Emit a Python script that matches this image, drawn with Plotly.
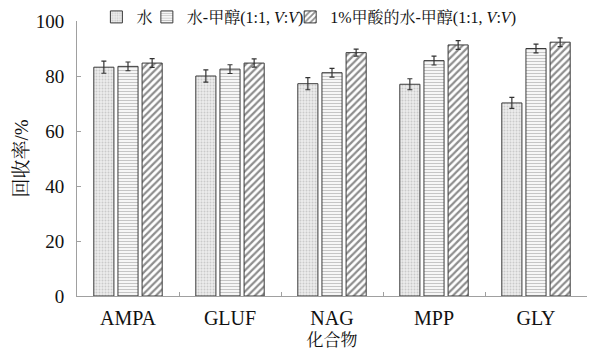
import plotly.graph_objects as go

categories = ["AMPA", "GLUF", "NAG", "MPP", "GLY"]
series_names = ["水", "水-甲醇(1:1, <i>V</i>:<i>V</i>)", "1%甲酸的水-甲醇(1:1, <i>V</i>:<i>V</i>)"]
water = [83.2, 80.0, 77.2, 77.0, 70.2]
water_err = [2.2, 2.2, 2.2, 2.0, 2.0]
water_meoh = [83.5, 82.5, 81.2, 85.6, 90.0]
water_meoh_err = [1.6, 1.6, 1.6, 1.6, 1.6]
formic = [84.7, 84.7, 88.5, 91.3, 92.3]
formic_err = [1.6, 1.5, 1.3, 1.6, 1.6]
y_ticks = [0, 20, 40, 60, 80, 100]

font_serif = "Liberation Serif, Times New Roman, Noto Serif CJK SC, Noto Sans CJK SC, serif"

fig = go.Figure()
styles = [
    dict(shape=".", fgcolor="#a8a8a8", bgcolor="#ececec", size=3, solidity=0.35),
    dict(shape="-", fgcolor="#8c8c8c", bgcolor="#ffffff", size=3, solidity=0.45),
    dict(shape="/", fgcolor="#1e1e1e", bgcolor="#ffffff", size=5, solidity=0.45),
]
legend_ids = ["legend", "legend2", "legend3"]
data = [(water, water_err), (water_meoh, water_meoh_err), (formic, formic_err)]
for name, (vals, errs), st, lg in zip(series_names, data, styles, legend_ids):
    fig.add_trace(go.Bar(
        x=categories, y=vals, name=name, legend=lg,
        marker=dict(pattern=st, color=st["bgcolor"], line=dict(color="#3a3a3a", width=1)),
        error_y=dict(type="data", array=errs, color="#333333", thickness=1.2, width=2.5),
    ))

leg_common = dict(orientation="h", yanchor="middle", y=1.0145, xanchor="left",
                  bgcolor="rgba(0,0,0,0)",
                  font=dict(size=16, family=font_serif, color="#111111"), itemwidth=30)
fig.update_layout(
    width=590, height=352,
    margin=dict(l=77, r=3, t=21, b=56, autoexpand=False),
    barmode="group", bargap=0.29, bargroupgap=0.167,
    plot_bgcolor="white", paper_bgcolor="white",
    font=dict(family=font_serif, color="#111111", size=16),
    legend=dict(leg_common, x=0.038),
    legend2=dict(leg_common, x=0.137),
    legend3=dict(leg_common, x=0.418),
    showlegend=True,
)
fig.update_xaxes(
    showline=True, linecolor="#a0a0a0", linewidth=1,
    ticks="inside", tickson="boundaries", ticklen=4, tickcolor="#a0a0a0",
    tickfont=dict(size=20, family=font_serif), ticklabelstandoff=4,
    automargin=False,
    title=dict(text="化合物", font=dict(size=17, family=font_serif), standoff=6),
)
fig.update_yaxes(
    range=[0, 100], tickvals=y_ticks, showgrid=False, zeroline=False,
    showline=True, linecolor="#a0a0a0", linewidth=1,
    ticks="inside", ticklen=4, tickcolor="#a0a0a0",
    tickfont=dict(size=19, family=font_serif), ticklabelstandoff=8,
    automargin=False,
    title=dict(text="回收率/%", font=dict(size=19, family=font_serif), standoff=2),
)
fig.write_html("out.html", config={"displayModeBar": False},
               post_script="document.body.style.margin='0';")
